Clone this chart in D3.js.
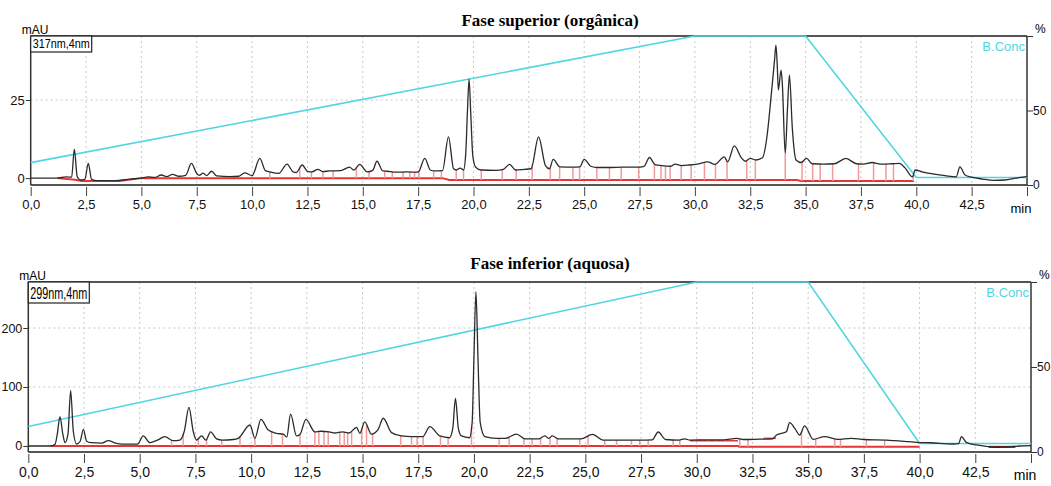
<!DOCTYPE html>
<html>
<head>
<meta charset="utf-8">
<script src="https://cdn.jsdelivr.net/npm/d3@7"></script>
<style>
  body { margin: 0; background: #fff; }
  svg { display: block; }
  text { font-family: "Liberation Sans", Arial, sans-serif; }
</style>
</head>
<body>
<div id="chart"></div>
<script>
// ---- data ----
// time in min, absorbance in mAU
const topTrace = [
  [0,0],[1.2,0],[1.6,0.4],[1.85,0.3],[1.97,9.3],[2.1,0.5],[2.25,-0.6],[2.45,-0.3],[2.6,4.7],[2.75,-0.4],
  [3.0,-0.8],[3.8,-0.8],[4.5,-0.3],[5.0,0],[5.3,0.4],[5.6,0.2],[5.9,1.0],[6.15,0.5],[6.4,1.2],[6.7,0.6],
  [7.0,0.9],[7.26,4.7],[7.5,1.5],[7.62,0.9],[7.78,1.6],[7.95,0.8],[8.17,2.2],[8.4,0.7],[9.0,0.5],[9.4,0.6],
  [9.67,1.7],[10.0,0.8],[10.35,6.3],[10.6,2.4],[10.8,2.0],[11.2,1.5],[11.58,4.5],[11.85,2.0],[12.0,1.8],
  [12.26,4.2],[12.5,2.2],[12.7,2.0],[12.97,2.8],[13.2,2.1],[13.5,2.3],[14.0,2.4],[14.4,3.5],[14.6,2.6],
  [14.86,4.4],[15.2,2.0],[15.45,2.5],[15.64,5.4],[15.9,2.3],[16.1,2.2],[16.5,1.9],[17.0,2.0],[17.5,1.9],
  [17.8,6.3],[18.05,2.6],[18.25,2.3],[18.6,2.4],[18.87,13.2],[19.1,3.0],[19.22,2.6],[19.4,3.2],[19.55,2.6],
  [19.65,8],[19.73,22],[19.8,31.7],[19.88,20],[19.97,7],[20.1,3.5],[20.35,2.6],[21.0,2.5],[21.35,2.8],
  [21.63,4.4],[21.9,2.6],[22.3,2.8],[22.6,3.0],[22.94,13.2],[23.25,4.0],[23.43,3.0],[23.6,6.0],[23.9,3.6],
  [24.5,3.5],[24.8,3.6],[25.0,6.0],[25.3,3.8],[25.6,3.4],[26.2,3.4],[26.7,3.5],[27.4,3.5],[27.7,3.8],
  [27.95,6.6],[28.2,4.3],[28.5,4.0],[28.9,3.8],[29.1,4.5],[29.4,4.0],[29.75,4.2],[30.1,4.5],[30.58,5.2],
  [30.9,4.4],[31.33,6.8],[31.48,5.2],[31.78,10.3],[32.1,6.5],[32.28,5.4],[32.5,6.3],[32.76,5.8],[33.05,6.5],
  [33.25,13],[33.44,26],[33.6,38],[33.66,42.6],[33.72,36],[33.77,28.2],[33.89,34.6],[33.95,30],[34.08,7.9],
  [34.18,22],[34.27,33],[34.4,16],[34.57,5.8],[34.8,5.0],[35.04,6.3],[35.3,4.6],[35.8,4.5],[36.3,4.6],
  [36.82,6.3],[37.3,4.6],[37.6,4.5],[38.0,5.0],[38.4,4.5],[38.9,4.6],[39.23,4.7],[39.5,3.2],[39.83,0.4],
  [39.95,2.6],[40.3,1.9],[40.8,1.3],[41.3,0.8],[41.8,0.4],[41.97,3.6],[42.2,1.0],[42.5,0.3],[43.0,-0.3],
  [43.5,-0.7],[44.0,-0.6],[44.5,0],[45,0.5]
];
const bottomTrace = [
  [0,0],[1.0,0],[1.2,3],[1.3,20],[1.42,49.7],[1.55,20],[1.65,5.6],[1.78,20],[1.9,93.8],[2.02,25],
  [2.17,3.4],[2.33,8],[2.47,28],[2.62,8],[2.8,5.6],[3.3,5],[3.59,9],[3.9,5],[4.2,3],[4.9,3],[5.16,17],
  [5.46,5.6],[5.8,10],[6.13,15.8],[6.5,9],[6.8,10],[7.0,25],[7.21,65.5],[7.4,25],[7.55,10],[7.78,17],
  [7.97,10],[8.18,24],[8.45,12],[8.7,10],[9.2,11],[9.42,13],[9.95,35.6],[10.17,13],[10.44,45],[10.77,27],
  [11.14,21.5],[11.45,20],[11.6,15],[11.77,54],[12.04,17],[12.2,20],[12.46,45],[12.86,24],[13.1,25],
  [13.5,24],[13.75,22],[14.1,24],[14.4,22],[14.73,31.6],[14.88,21.5],[15.1,41],[15.4,20],[15.7,28],
  [15.93,47],[16.3,22.6],[16.75,17],[17.2,15.8],[17.7,15.8],[18.02,32.7],[18.47,17],[18.9,14],[19.05,30],
  [19.17,80.8],[19.3,30],[19.44,17],[19.8,14],[19.92,40],[20.0,150],[20.09,261.5],[20.18,150],[20.28,40],
  [20.49,15.8],[21.0,13],[21.4,13],[21.91,20],[22.3,12],[22.9,12],[23.18,17],[23.35,13],[23.52,17],
  [23.8,12],[24.8,12],[25.32,19.8],[25.8,10],[26.5,10],[27.4,10],[28.0,10.5],[28.27,23.7],[28.6,11],
  [29.2,10],[29.46,12],[29.7,10],[30.5,10.5],[31.2,10.5],[31.78,13],[32.1,11],[32.8,11.5],[33.4,12],
  [33.58,18.6],[34.02,24],[34.17,39.5],[34.4,30],[34.62,18.6],[34.84,34],[35.22,11.3],[35.74,15.8],
  [36.3,11.3],[36.94,13],[37.5,11],[38.5,10],[39.5,7.3],[39.86,6.2],[40.5,5.5],[41.5,3.4],[41.75,4],
  [41.88,15.8],[42.1,6],[42.55,1.7],[43.0,-0.5],[43.5,-2.2],[44.0,-1.5],[44.5,0],[45,0.5]
];

// peak start/end marks (min)
const topMarks = [10.8,12.15,12.68,13.2,13.66,14.71,15.28,15.99,16.33,16.82,17.12,17.34,17.54,18.2,18.55,
  19.22,19.55,20.35,21.3,21.93,22.65,23.47,23.89,24.49,24.79,25.57,26.14,26.67,27.46,28.17,28.47,28.67,
  28.88,29.38,29.83,30.43,30.93,31.45,32.34,32.73,34.08,34.84,35.32,35.66,36.22,37.39,38.07,38.63,38.97,39.86];
const bottomMarks = [6.43,6.95,7.63,8.0,8.68,9.5,10.17,10.92,11.41,12.19,12.86,13.04,13.27,13.46,13.98,14.18,
  14.33,14.51,14.96,15.18,15.45,16.71,17.2,17.45,17.72,18.5,18.84,19.89,21.13,21.58,22.24,22.61,22.99,23.41,
  23.73,24.75,25.12,25.87,26.4,27.07,27.44,27.82,28.94,29.24,29.91,30.51,30.85,31.26,31.93,32.3,33.1,33.42,
  34.7,35.34,36.19,36.45,37.61,38.43];

// integration baselines (min, mAU)
const topBaseline = [[1.2,0],[2.0,-0.5],[2.3,-0.9],[4.0,-0.9],[5.0,0],[18.6,0],[18.9,-0.6],[34.6,-0.6],[34.8,-0.9],[39.9,-0.9]];
const bottomBaseline = [[1.0,0],[31.85,0],[31.9,-1.5],[40,-1.5]];
const bottomLocalBaselines = [[[29.7,9],[31.85,9]],[[33.0,13],[33.55,13]]];
const bottomDarkBaseline = [[43.1,-1.5],[44.3,-1.5]];

// B.Conc gradient (min, %)
const gradTime = [0, 30, 35, 40, 45];
const gradPct = [15, 100, 100, 5, 5];

const xTicks = d3.range(0, 45, 2.5);

// ---- drawing ----
const W = 1051, H = 486;
const svg = d3.select("#chart").append("svg").attr("width", W).attr("height", H);

function interp(arr, t) {
  const i = d3.bisector(d => d[0]).left(arr, t);
  if (i <= 0) return arr[0][1];
  if (i >= arr.length) return arr[arr.length - 1][1];
  const a = arr[i - 1], b = arr[i];
  return a[1] + (b[1] - a[1]) * (t - a[0]) / (b[0] - a[0]);
}

const comma = v => d3.format(".1f")(v).replace(".", ",");

function drawPanel(p) {
  const g = svg.append("g");
  const x = d3.scaleLinear().domain([0, 45]).range([p.x0, p.x1]);
  const y = d3.scaleLinear().domain(p.yDomain).range([p.yb, p.yt]);
  const yp = d3.scaleLinear().domain([0, 100]).range([p.yb, p.yt]);

  // title
  g.append("text").attr("x", 550).attr("y", p.titleY).attr("text-anchor", "middle")
    .style("font-family", "'Liberation Serif', 'Times New Roman', serif")
    .style("font-weight", "bold").style("font-size", "17px").text(p.title);

  // grid
  g.append("g").selectAll("line").data(xTicks.filter(d => d > 0)).join("line")
    .attr("x1", d => x(d)).attr("x2", d => x(d)).attr("y1", p.yt).attr("y2", p.yb)
    .attr("stroke", "#c8c8c8").attr("stroke-dasharray", "2,3");
  g.append("g").selectAll("line").data(p.gridY).join("line")
    .attr("x1", p.x0).attr("x2", p.x1).attr("y1", d => y(d)).attr("y2", d => y(d))
    .attr("stroke", "#c8c8c8").attr("stroke-dasharray", "2,3");

  // frame
  g.append("line").attr("x1", p.x0).attr("x2", p.x1).attr("y1", p.yt).attr("y2", p.yt)
    .attr("stroke", "#555").attr("stroke-width", 2);
  g.append("line").attr("x1", p.x0).attr("x2", p.x1).attr("y1", p.yb).attr("y2", p.yb)
    .attr("stroke", "#555").attr("stroke-width", 2);

  // left axis
  const left = g.append("g").attr("transform", `translate(${p.x0},0)`);
  left.call(d3.axisLeft(y).tickValues(p.yMinor).tickSize(3).tickFormat(""));
  left.call(d3.axisLeft(y).tickValues(p.yTicks).tickSize(5).tickPadding(1).tickFormat(d3.format("d")));
  left.selectAll(".domain").remove();
  left.append("line").attr("y1", p.yt).attr("y2", p.yb).attr("stroke", "#333").attr("stroke-width", 1.5);
  left.selectAll("text").style("font-size", p.yfs + "px").attr("fill", "#111");
  left.selectAll("line").attr("stroke", "#333");
  g.append("text").attr("x", p.x0 - 9).attr("y", p.yt - 2).style("font-size", "12px").text("mAU");

  // right axis (%)
  const right = g.append("g").attr("transform", `translate(${p.x1},0)`);
  right.call(d3.axisRight(yp).tickValues(d3.range(0, 101, 10)).tickSize(4).tickFormat(""));
  right.call(d3.axisRight(yp).tickValues([0, 50, 100]).tickSize(6).tickPadding(0)
    .tickFormat(d => d === 100 ? "" : d));
  right.selectAll(".domain").remove();
  right.append("line").attr("y1", p.yt).attr("y2", p.yb).attr("stroke", "#333").attr("stroke-width", 1.5);
  right.selectAll("text").style("font-size", "12px").attr("fill", "#111");
  right.selectAll("line").attr("stroke", "#333");
  g.append("text").attr("x", p.x1 + 8).attr("y", p.yt - 3).style("font-size", "12px").text("%");

  // bottom axis
  const bottom = g.append("g").attr("transform", `translate(0,${p.yb + 2})`);
  bottom.call(d3.axisBottom(x).tickValues(d3.range(0, 45.01, 0.5)).tickSize(4).tickFormat(""));
  bottom.call(d3.axisBottom(x).tickValues(xTicks.concat([45])).tickSize(9).tickPadding(4)
    .tickFormat(d => d === 45 ? "" : comma(d)));
  bottom.selectAll(".domain").remove();
  bottom.selectAll("text").style("font-size", p.fs + "px").attr("fill", "#111");
  bottom.selectAll("line").attr("stroke", "#444");
  g.append("text").attr("x", p.x1 - 6).attr("y", p.yb + 28).attr("text-anchor", "middle")
    .style("font-size", p.fs + "px").text("min");

  // B.Conc gradient
  const conc = d3.line().x(d => x(d)).y((d, i) => yp(gradPct[i]));
  g.append("path").attr("d", conc(gradTime)).attr("fill", "none")
    .attr("stroke", "#4fd6e2").attr("stroke-width", 1.6);
  g.append("text").attr("x", p.x1 - 2).attr("y", p.yt + 15).attr("text-anchor", "end")
    .attr("fill", "#4fd6e2").style("font-size", "13px").text("B.Conc");

  // baselines
  const line = d3.line().x(d => x(d[0])).y(d => y(d[1]));
  g.append("path").attr("d", line(p.baseline)).attr("fill", "none")
    .attr("stroke", "#e53535").attr("stroke-width", 2);
  (p.localBaselines || []).forEach(b => {
    g.append("path").attr("d", line(b)).attr("fill", "none")
      .attr("stroke", "#e53535").attr("stroke-width", 1.5);
  });
  if (p.darkBaseline) {
    g.append("path").attr("d", line(p.darkBaseline)).attr("fill", "none")
      .attr("stroke", "#8a1010").attr("stroke-width", 2);
  }

  // peak marks
  const markBase = t => {
    const lb = (p.localBaselines || []).find(b => t >= b[0][0] && t <= b[1][0]);
    return lb ? interp(lb, t) : interp(p.baseline, t);
  };
  g.append("g").selectAll("line").data(p.marks).join("line")
    .attr("x1", d => x(d)).attr("x2", d => x(d))
    .attr("y1", d => y(markBase(d))).attr("y2", d => y(interp(p.trace, d)))
    .attr("stroke", "#f19a9a").attr("stroke-width", 1.5);

  // chromatogram
  const trace = d3.line().x(d => x(d[0])).y(d => y(d[1])).curve(d3.curveMonotoneX);
  g.append("path").attr("d", trace(p.trace)).attr("fill", "none")
    .attr("stroke", "#2b2b2b").attr("stroke-width", 1.3);

  // wavelength box
  g.append("rect").attr("x", p.x0).attr("y", p.yt).attr("width", 61).attr("height", p.boxH)
    .attr("fill", "#fff").attr("stroke", "#222").attr("stroke-width", 1.2);
  g.append("text").attr("x", p.x0 + 2).attr("y", p.yt + p.boxH - 4)
    .attr("textLength", 57).attr("lengthAdjust", "spacingAndGlyphs")
    .style("font-size", p.boxFs + "px").text(p.label);
}

drawPanel({
  title: "Fase superior (orgânica)", titleY: 26, label: "317nm,4nm",
  x0: 30.7, x1: 1027, yt: 36, yb: 185, yDomain: [-2.2, 45.5],
  yTicks: [0, 25], yMinor: d3.range(0, 46, 5), gridY: [25],
  trace: topTrace, marks: topMarks, baseline: topBaseline,
  fs: 13, yfs: 13, boxH: 16, boxFs: 13
});

drawPanel({
  title: "Fase inferior (aquosa)", titleY: 269, label: "299nm,4nm",
  x0: 28.3, x1: 1031, yt: 282, yb: 452, yDomain: [-10.2, 278],
  yTicks: [0, 100, 200], yMinor: d3.range(0, 271, 20), gridY: [100, 200],
  trace: bottomTrace, marks: bottomMarks, baseline: bottomBaseline,
  localBaselines: bottomLocalBaselines, darkBaseline: bottomDarkBaseline,
  fs: 14, yfs: 12.5, boxH: 21, boxFs: 16
});
</script>
</body>
</html>
